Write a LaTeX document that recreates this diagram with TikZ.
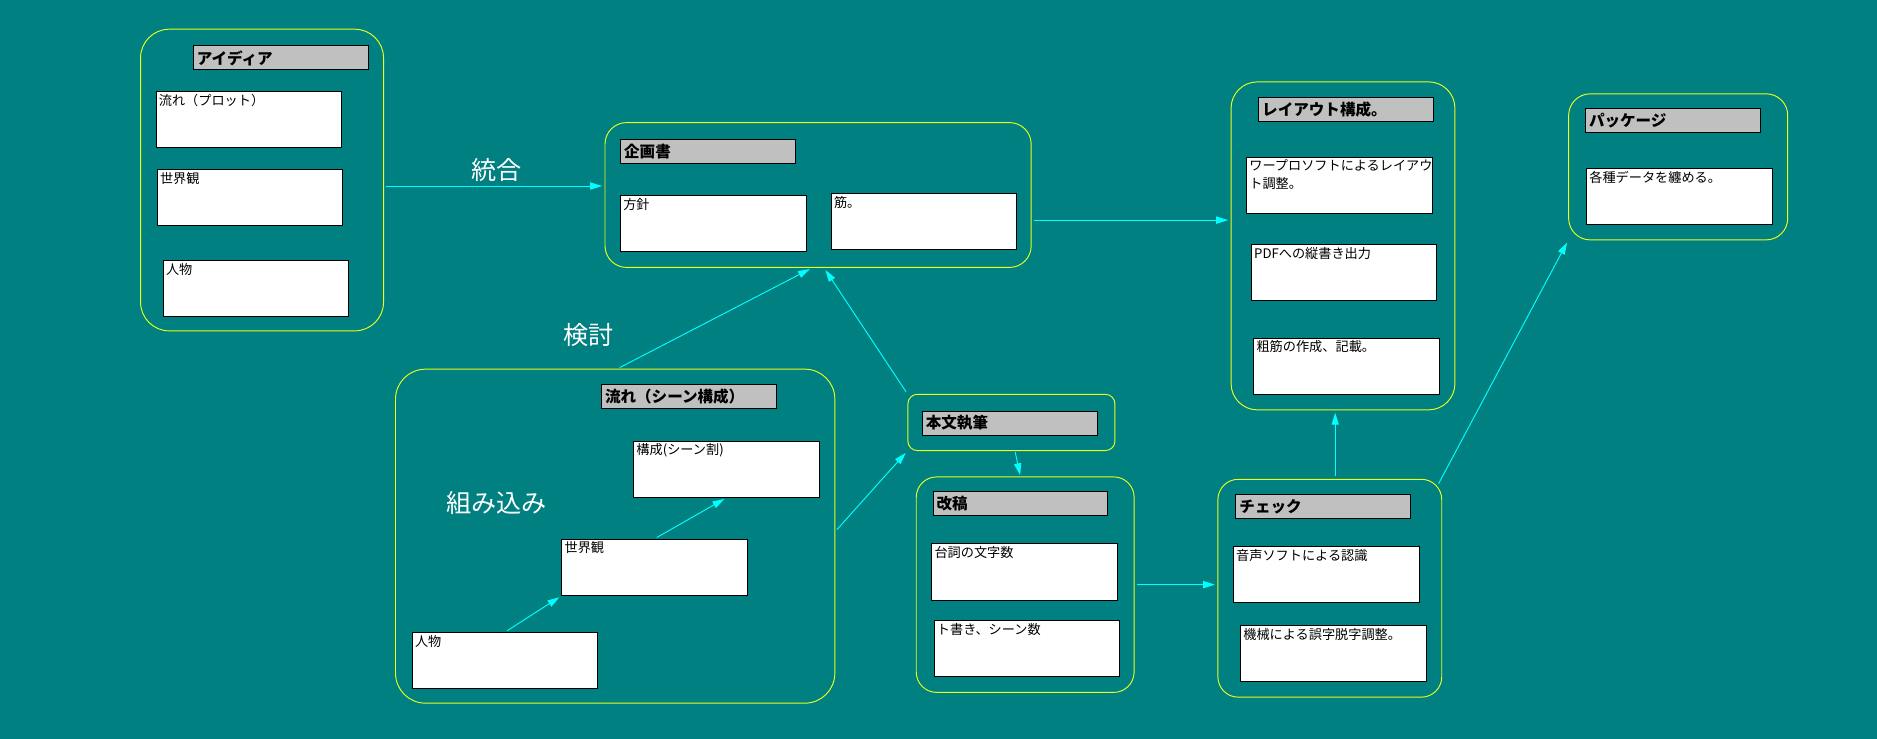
\documentclass[tikz,border=0pt]{standalone}
\usepackage{fontspec}
\setmainfont{Noto Sans CJK JP}
\usetikzlibrary{arrows.meta, positioning, calc}
\definecolor{colTeal}{RGB}{0, 128, 128}
\definecolor{colGray}{RGB}{192, 192, 192}
\definecolor{colCyan}{RGB}{0, 255, 255}
\definecolor{colLime}{RGB}{230, 255, 30}

\tikzset{
    grp/.style={draw=colLime, line width=0.8pt, rounded corners=#1, anchor=north west, inner sep=0pt},
    grp/.default=17pt,
    hdr/.style={draw=black, fill=colGray, line width=0.8pt, anchor=north west, minimum height=20pt,
        text width=140pt, inner xsep=3pt, inner ysep=0pt, align=left,
        font=\bfseries\fontsize{13}{14}\selectfont},
    item/.style={draw=black, fill=white, line width=0.8pt, anchor=north west, minimum width=155pt, minimum height=47pt},
    itxt/.style={anchor=north west, inner sep=2.5pt, align=left, text=black, font=\fontsize{11}{15}\selectfont},
    big/.style={text=white, font=\fontsize{21}{24}\selectfont},
    flow/.style={draw=colCyan, line width=0.8pt, -{Triangle[length=10pt,width=6pt]}, shorten >=2pt, shorten <=2pt}
}

\begin{document}
\begin{tikzpicture}[x=1pt, y=-1pt]
    \fill[colTeal] (0, 0) rectangle (1568, 617);

    % --- アイディア ---
    \node[grp=24pt, minimum width=203pt, minimum height=252pt] (gIdea) at (117, 24) {};
    \node[hdr] (hIdea) at (161, 38) {アイディア};
    \node[item, label={[itxt]north west:{流れ（プロット）}}] (iPlot) at (130, 76) {};
    \node[item, label={[itxt]north west:{世界観}}] (iWorld) at (131, 141) {};
    \node[item, label={[itxt]north west:{人物}}] (iChar) at (136, 217) {};

    % --- 企画書 ---
    \node[grp=18pt, minimum width=356pt, minimum height=121pt] (gPlan) at (505, 102) {};
    \node[hdr] (hPlan) at (518, 116) {企画書};
    \node[item, label={[itxt]north west:{方針}}] (iPolicy) at (518, 163) {};
    \node[item, label={[itxt]north west:{筋。}}] (iStory) at (694, 161) {};

    % --- レイアウト構成 ---
    \node[grp=22pt, minimum width=187pt, minimum height=274pt] (gLayout) at (1028, 68) {};
    \node[hdr] (hLayout) at (1051, 81) {レイアウト構成。};
    \node[item, label={[itxt]north west:{ワープロソフトによるレイアウ\\ト調整。}}] (iWord) at (1041, 131) {};
    \node[item, label={[itxt]north west:{PDFへの縦書き出力}}] (iPdf) at (1045, 204) {};
    \node[item, label={[itxt]north west:{粗筋の作成、記載。}}] (iSynop) at (1047, 282) {};

    % --- パッケージ ---
    \node[grp=18pt, minimum width=183pt, minimum height=122pt] (gPack) at (1310, 78) {};
    \node[hdr] (hPack) at (1324, 90) {パッケージ};
    \node[item, label={[itxt]north west:{各種データを纏める。}}] (iData) at (1325, 140) {};

    % --- 流れ（シーン構成） ---
    \node[grp=25pt, minimum width=367pt, minimum height=279pt] (gFlow) at (330, 308) {};
    \node[hdr] (hFlow) at (502, 321) {流れ（シーン構成）};
    \node[item, label={[itxt]north west:{構成(シーン割)}}] (iScene) at (529, 368) {};
    \node[item, label={[itxt]north west:{世界観}}] (iWorldB) at (469, 450) {};
    \node[item, label={[itxt]north west:{人物}}] (iCharB) at (344, 528) {};
    \node[big] (lBuild) at (415, 420) {組み込み};

    % --- 本文執筆 ---
    \node[grp=8pt, minimum width=173pt, minimum height=47pt] (gWrite) at (758, 329) {};
    \node[hdr] (hWrite) at (770, 343) {本文執筆};

    % --- 改稿 ---
    \node[grp=17pt, minimum width=182pt, minimum height=180pt] (gRevise) at (765, 398) {};
    \node[hdr] (hRevise) at (779, 410) {改稿};
    \node[item, label={[itxt]north west:{台詞の文字数}}] (iLines) at (778, 454) {};
    \node[item, label={[itxt]north west:{ト書き、シーン数}}] (iStage) at (780, 518) {};

    % --- チェック ---
    \node[grp=17pt, minimum width=187pt, minimum height=182pt] (gCheck) at (1017, 400) {};
    \node[hdr] (hCheck) at (1032, 413) {チェック};
    \node[item, label={[itxt]north west:{音声ソフトによる認識}}] (iVoice) at (1030, 456) {};
    \node[item, label={[itxt]north west:{機械による誤字脱字調整。}}] (iTypo) at (1036, 522) {};

    % --- 矢印 ---
    \coordinate (mIdea) at ([yshift=-5pt]gIdea.east);
    \draw[flow] (mIdea) -- (mIdea -| gPlan.west);
    \node[big] (lMerge) at (415, 142) {統合};

    \coordinate (mPlan) at ([yshift=-21pt]gPlan.east);
    \draw[flow] (mPlan) -- (mPlan -| gLayout.west);

    \draw[flow] ([xshift=2pt]gFlow.north) -- ([xshift=-5pt]gPlan.south);
    \node[big] (lReview) at (492, 280) {検討};

    \draw[flow] (gWrite.north west) -- ([xshift=5pt]gPlan.south);
    \draw[flow] ([yshift=4pt]gFlow.east) -- (gWrite.south west);
    \draw[flow, shorten <=1pt, shorten >=1pt] ([xshift=3pt]gWrite.south) -- ([xshift=-4pt]gRevise.north);
    \draw[flow] (gRevise.east) -- (gRevise.east -| gCheck.west);

    \coordinate (mCheck) at ([xshift=4.5pt]gCheck.north);
    \draw[flow] (mCheck) -- (mCheck |- gLayout.south);
    \coordinate (nCheck) at ([xshift=-3pt, yshift=-4pt]gCheck.north east);
    \draw[flow, shorten <=0pt] (nCheck) -- (gPack.south west);

    % シーン構成の中
    \draw[flow] (iCharB.north) -- (iWorldB.south west);
    \draw[flow] (iWorldB.north) -- (iScene.south);
\end{tikzpicture}
\end{document}
